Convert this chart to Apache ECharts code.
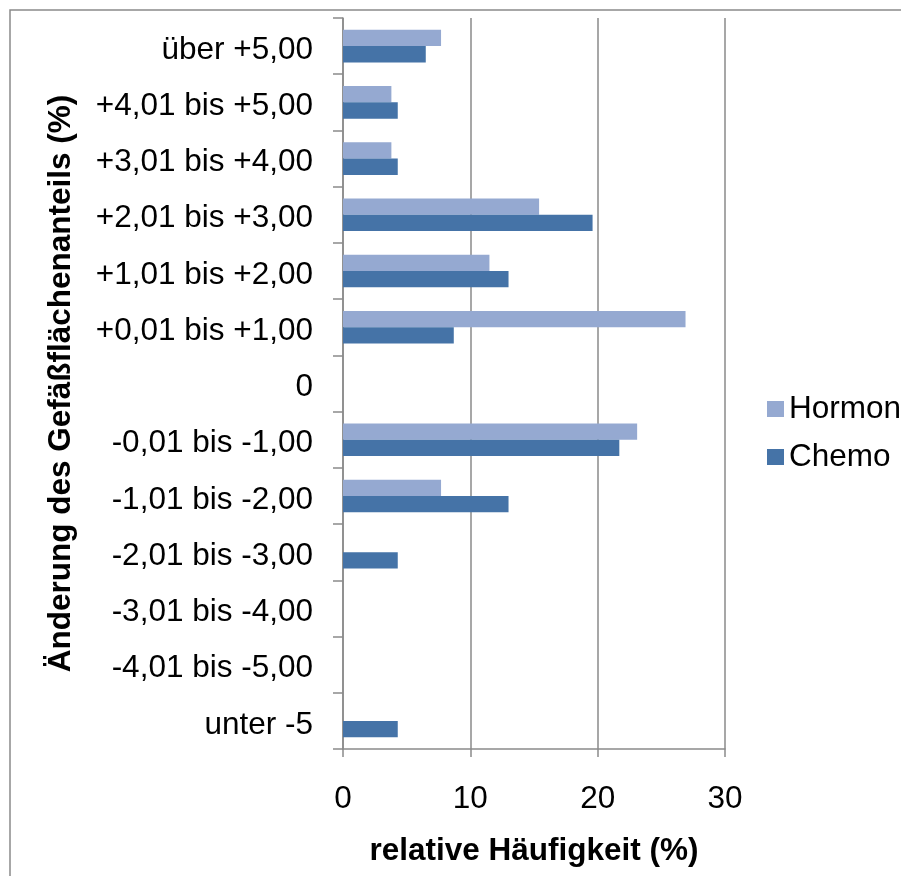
<!DOCTYPE html>
<html>
<head>
<meta charset="utf-8">
<script src="https://cdn.jsdelivr.net/npm/echarts@6/dist/echarts.min.js"></script>
<style>
  html, body { margin: 0; padding: 0; background: #fff; }
  #chart { width: 901px; height: 876px; }
</style>
</head>
<body>
<div id="chart"></div>
<script>
// Change of vessel area share (%) — relative frequency per class
const categories = [
  'über +5,00', '+4,01 bis +5,00', '+3,01 bis +4,00', '+2,01 bis +3,00',
  '+1,01 bis +2,00', '+0,01 bis +1,00', '0', '-0,01 bis -1,00',
  '-1,01 bis -2,00', '-2,01 bis -3,00', '-3,01 bis -4,00', '-4,01 bis -5,00',
  'unter -5'
];
const hormon = [7.7, 3.8, 3.8, 15.4, 11.5, 26.9, 0, 23.1, 7.7, 0, 0, 0, 0];
const chemo  = [6.5, 4.3, 4.3, 19.6, 13.0, 8.7, 0, 21.7, 13.0, 4.3, 0, 0, 4.3];
const xTicks = [0, 10, 20, 30];

const FONT = "'Liberation Sans', Arial, sans-serif";
const GREY = '#8a8a8a';
const FS = 31.5;

const chart = echarts.init(document.getElementById('chart'), null, { renderer: 'canvas' });

chart.setOption({
  backgroundColor: '#ffffff',
  animation: false,
  textStyle: { fontFamily: FONT, color: '#000' },
  graphic: [{
    type: 'rect',
    shape: { x: 10, y: 10, width: 1000, height: 1000 },
    style: { fill: 'none', stroke: GREY, lineWidth: 1.5 },
    silent: true
  }],
  legend: {
    orient: 'vertical',
    left: 762,
    top: 388,
    itemWidth: 17,
    itemHeight: 16,
    itemGap: 16,
    icon: 'rect',
    data: ['Hormon', 'Chemo'],
    textStyle: { fontFamily: FONT, fontSize: FS, color: '#000' }
  },
  grid: { left: 343, right: 176, top: 18, bottom: 127, containLabel: false },
  xAxis: {
    type: 'value',
    min: xTicks[0],
    max: xTicks[xTicks.length - 1],
    interval: 10,
    name: 'relative Häufigkeit (%)',
    nameLocation: 'middle',
    nameGap: 86,
    nameTextStyle: { fontFamily: FONT, fontSize: FS, fontWeight: 'bold', color: '#000' },
    axisLine: { show: true, lineStyle: { color: GREY, width: 1.5 } },
    axisTick: { show: true, length: 8, lineStyle: { color: GREY, width: 1.5 } },
    axisLabel: { fontFamily: FONT, fontSize: FS, color: '#000', margin: 34 },
    splitLine: { show: true, lineStyle: { color: GREY, width: 1.5 } }
  },
  yAxis: {
    type: 'category',
    inverse: true,
    data: categories,
    name: 'Änderung des Gefäßflächenanteils (%)',
    nameLocation: 'middle',
    nameGap: 266,
    nameRotate: 90,
    nameTextStyle: { fontFamily: FONT, fontSize: FS, fontWeight: 'bold', color: '#000' },
    axisLine: { show: true, lineStyle: { color: GREY, width: 1.5 } },
    axisTick: { show: true, length: 10, lineStyle: { color: GREY, width: 1.5 } },
    axisLabel: {
      margin: 30,
      formatter: function (v) { return '{c|' + v + '}'; },
      rich: {
        c: { fontFamily: FONT, fontSize: FS, color: '#000', padding: [8, 0, 0, 0] }
      }
    },
    splitLine: { show: false }
  },
  series: [
    {
      name: 'Hormon',
      type: 'bar',
      data: hormon,
      barGap: '0%',
      barCategoryGap: '42%',
      itemStyle: { color: '#95A9D1' }
    },
    {
      name: 'Chemo',
      type: 'bar',
      data: chemo,
      barGap: '0%',
      barCategoryGap: '42%',
      itemStyle: { color: '#4573A7' }
    }
  ]
});
</script>
</body>
</html>
